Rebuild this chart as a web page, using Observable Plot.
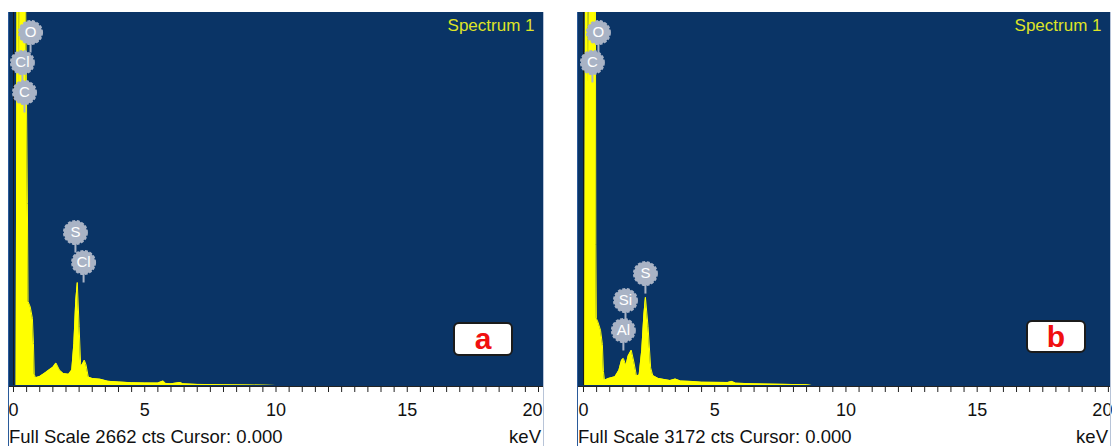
<!DOCTYPE html>
<html>
<head>
<meta charset="utf-8">
<script src="https://cdn.jsdelivr.net/npm/d3@7"></script>
<script src="https://cdn.jsdelivr.net/npm/@observablehq/plot@0.6"></script>
<style>
  html, body { margin: 0; padding: 0; background: #fff; }
  #wrap { position: relative; width: 1112px; height: 446px; overflow: hidden; font-family: "Liberation Sans", Arial, sans-serif; }
  .svgbox { position: absolute; top: 0; }
  .foot { position: absolute; top: 426px; font-size: 18.5px; color: #111; white-space: nowrap; line-height: 22px; }
  .tag { position: absolute; background: #fff; border: 2px solid #1b1b1b; border-radius: 6px; color: #f01010; font-weight: bold; font-size: 30px; text-align: center; box-sizing: border-box; }
  .edge { position: absolute; width: 1px; }
</style>
</head>
<body>
<div id="wrap"></div>
<script>
// ---------- data ----------
const tickLabels = [0, 5, 10, 15];
const lastTickLabel = 20;

// panel a spectrum (keV, counts)
const energyA = [0, 0.10, 0.135, 0.155, 0.20, 0.215, 0.235, 0.255, 0.28, 0.42,
  0.46, 0.53, 0.555, 0.64, 0.72, 0.76, 0.79, 0.84, 1.0, 1.2,
  1.35, 1.5, 1.62, 1.75, 1.9, 2.1, 2.22, 2.30, 2.37, 2.43,
  2.50, 2.56, 2.62, 2.70, 2.76, 2.85, 3.0, 3.3, 3.6, 4.0,
  4.5, 5.0, 5.5, 5.7, 5.8, 6.0, 6.35, 6.45, 7.0, 8.0,
  9.0, 9.6, 10.0, 20.2];
const countsA = [0, 0, 2800, 4500, 4500, 2800, 1800, 2800, 5500, 5500,
  2800, 1300, 600, 560, 480, 300, 80, 55, 65, 90,
  110, 130, 160, 110, 85, 80, 110, 300, 600, 735,
  420, 140, 150, 180, 150, 60, 50, 45, 30, 25,
  20, 18, 17, 32, 15, 12, 22, 12, 8, 5,
  3, 2, 0, 0];
const fullScaleA = 2662;
const elementsA = ["O", "Cl", "C", "S", "Cl"];
const labelKeVA = [0.65, 0.34, 0.42, 2.36, 2.67];
const labelCountA = [2519, 2305, 2091, 1092, 878];

// panel b spectrum (keV, counts)
const energyB = [0, 0.05, 0.075, 0.10, 0.15, 0.17, 0.20, 0.23, 0.26, 0.42,
  0.455, 0.47, 0.49, 0.55, 0.65, 0.72, 0.76, 0.80, 0.95, 1.2,
  1.35, 1.45, 1.52, 1.62, 1.70, 1.82, 1.92, 2.02, 2.12, 2.22,
  2.30, 2.36, 2.46, 2.56, 2.64, 2.85, 3.3, 3.5, 3.7, 4.1,
  4.5, 5.5, 5.65, 5.8, 6.5, 7.5, 8.5, 8.7, 20.1];
const countsB = [0, 0, 3400, 5000, 5000, 3400, 2200, 3400, 6000, 6000,
  3400, 1200, 570, 540, 470, 350, 120, 45, 60, 75,
  130, 215, 230, 170, 250, 300, 200, 80, 90, 300,
  600, 750, 500, 150, 85, 60, 42, 55, 38, 35,
  28, 26, 35, 20, 14, 10, 6, 0, 0];
const fullScaleB = 3172;
const elementsB = ["O", "C", "S", "Si", "Al"];
const labelKeVB = [0.57, 0.34, 2.36, 1.60, 1.52];
const labelCountB = [3002, 2747, 952, 723, 468];

// ---------- styles ----------
const BG = "#0a3466";
const YEL = "#ffff00";
const BADGE = "#a9b3c5";
const TITLE = "#dfe327";

function panel(o) {
  const data = o.energy.map((e, i) => ({keV: e, count: o.counts[i]}));
  const labels = o.elements.map((el, i) => ({el, keV: o.labelKeV[i], count: o.labelCount[i]}));
  return Plot.plot({
    width: 556, height: 446,
    marginTop: 12, marginBottom: 61, marginLeft: o.marginLeft, marginRight: o.marginRight,
    x: {domain: o.domain, axis: null},
    y: {domain: [0, o.full], axis: null},
    style: {fontFamily: '"Liberation Sans", Arial, sans-serif', fontSize: "18px", background: "transparent", overflow: "visible", color: "#111"},
    marks: [
      Plot.frame({fill: BG, stroke: BG}),
      Plot.areaY(data, {x: "keV", y: "count", fill: YEL, clip: true, curve: "linear"}),
      Plot.lineY(data, {x: "keV", y: "count", stroke: YEL, strokeWidth: 1, clip: true, curve: "linear"}),
      Plot.ruleX([0], {stroke: "#1a1a1a", strokeWidth: 1}),
      Plot.ruleX(labels, {x: "keV", y1: "count", y2: d => d.count - o.full * 0.055, stroke: BADGE, strokeWidth: 2}),
      Plot.dot(labels, {x: "keV", y: "count", r: 11.5, fill: BADGE, stroke: BADGE, strokeWidth: 2, strokeDasharray: "3 1.6"}),
      Plot.text(labels, {x: "keV", y: "count", text: "el", fill: "white", fontSize: 15}),
      Plot.text(["Spectrum 1"], {frameAnchor: "top-right", dx: -9, dy: 6, lineAnchor: "top", textAnchor: "end", fill: TITLE, fontSize: 17}),
      Plot.ruleY([0], {stroke: "#222", strokeWidth: 1, dy: 1}),
      Plot.axisX({ticks: d3.range(0, 20.01, 0.5), tickSize: 6, tickFormat: () => "", label: null, stroke: "#222", dy: 1}),
      Plot.axisX({ticks: tickLabels, tickSize: 0, tickPadding: 18, tickFormat: d => String(d), label: null, fontSize: 18, fill: "#111"}),
      Plot.axisX({ticks: [lastTickLabel], tickSize: 0, tickPadding: 18, tickFormat: d => String(d), label: null, fontSize: 18, fill: "#111", textAnchor: "end", dx: 4})
    ]
  });
}

const wrap = document.getElementById("wrap");

const a = panel({energy: energyA, counts: countsA, full: fullScaleA, elements: elementsA, labelKeV: labelKeVA, labelCount: labelCountA,
  domain: [-0.152, 20.19], marginLeft: 9, marginRight: 13});
const b = panel({energy: energyB, counts: countsB, full: fullScaleB, elements: elementsB, labelKeV: labelKeVB, labelCount: labelCountB,
  domain: [-0.19, 20.08], marginLeft: 22, marginRight: 2});

const boxA = document.createElement("div"); boxA.className = "svgbox"; boxA.style.left = "0px"; boxA.appendChild(a); wrap.appendChild(boxA);
const boxB = document.createElement("div"); boxB.className = "svgbox"; boxB.style.left = "556px"; boxB.appendChild(b); wrap.appendChild(boxB);

function addDiv(cls, style, text) {
  const d = document.createElement("div");
  d.className = cls;
  Object.assign(d.style, style);
  if (text) d.textContent = text;
  wrap.appendChild(d);
  return d;
}
// footers
addDiv("foot", {left: "9px"}, "Full Scale " + fullScaleA + " cts Cursor: 0.000");
addDiv("foot", {left: "491px", width: "50px", textAlign: "right"}, "keV");
addDiv("foot", {left: "578px"}, "Full Scale " + fullScaleB + " cts Cursor: 0.000");
addDiv("foot", {left: "1058px", width: "50px", textAlign: "right"}, "keV");
// panel side edges
addDiv("edge", {left: "8px", top: "12px", height: "434px", background: "#2a5a9a"});
addDiv("edge", {left: "543px", top: "12px", height: "434px", background: "#b8c4d8"});
addDiv("edge", {left: "577px", top: "12px", height: "434px", background: "#2a5a9a"});
addDiv("edge", {left: "1110px", top: "12px", height: "434px", background: "#b8c4d8"});
// panel tags
addDiv("tag", {left: "453px", top: "322px", width: "60px", height: "34px", lineHeight: "30px"}, "a");
addDiv("tag", {left: "1026px", top: "320px", width: "60px", height: "33px", lineHeight: "29px"}, "b");
</script>
</body>
</html>
